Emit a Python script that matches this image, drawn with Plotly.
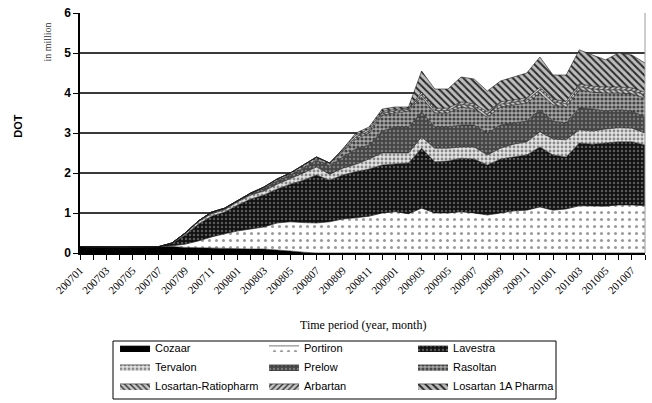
import plotly.graph_objects as go

# Monthly periods Jan 2007 .. Aug 2010
months = [f"{y}{m:02d}" for y in (2007, 2008, 2009, 2010) for m in range(1, 13)][:44]

# Defined daily doses (DOT), in million, per product
cozaar = [0.16, 0.15, 0.15, 0.15, 0.15, 0.15, 0.16, 0.16, 0.14, 0.13, 0.12, 0.12, 0.11, 0.10,
          0.10, 0.08, 0.05, 0.02] + [0.0] * 26
portiron = [0, 0, 0, 0, 0, 0, 0, 0.02, 0.08, 0.17, 0.28, 0.36, 0.44, 0.50, 0.55, 0.67, 0.73,
            0.74, 0.75, 0.78, 0.85, 0.88, 0.92, 1.00, 1.03, 0.98, 1.12, 1.00, 1.00, 1.03, 1.00,
            0.95, 1.00, 1.05, 1.07, 1.15, 1.07, 1.10, 1.18, 1.18, 1.17, 1.20, 1.20, 1.18]
lavestra = [0, 0, 0, 0, 0, 0, 0, 0.06, 0.23, 0.42, 0.52, 0.54, 0.65, 0.75, 0.80, 0.85, 0.94,
            1.06, 1.20, 1.04, 1.10, 1.15, 1.18, 1.20, 1.19, 1.27, 1.50, 1.28, 1.30, 1.34, 1.35,
            1.25, 1.35, 1.35, 1.38, 1.50, 1.38, 1.30, 1.57, 1.54, 1.58, 1.58, 1.58, 1.52]
tervalon = [0, 0, 0, 0, 0, 0, 0, 0.01, 0.03, 0.06, 0.06, 0.06, 0.08, 0.10, 0.10, 0.12, 0.13,
            0.18, 0.20, 0.15, 0.17, 0.19, 0.25, 0.30, 0.28, 0.25, 0.28, 0.34, 0.32, 0.28, 0.30,
            0.25, 0.27, 0.32, 0.33, 0.38, 0.40, 0.43, 0.33, 0.33, 0.35, 0.35, 0.34, 0.30]
prelow = [0, 0, 0, 0, 0, 0, 0, 0, 0.02, 0.02, 0.04, 0.04, 0.04, 0.05, 0.07, 0.08, 0.10,
          0.12, 0.17, 0.21, 0.28, 0.38, 0.35, 0.55, 0.65, 0.65, 0.63, 0.53, 0.53, 0.55, 0.55,
          0.55, 0.58, 0.53, 0.52, 0.55, 0.45, 0.42, 0.55, 0.55, 0.45, 0.45, 0.43, 0.40]
rasoltan = [0, 0, 0, 0, 0, 0, 0, 0, 0, 0, 0, 0, 0, 0, 0.03, 0.05, 0.05,
            0.08, 0.08, 0.07, 0.15, 0.25, 0.30, 0.40, 0.35, 0.40, 0.37, 0.35, 0.35, 0.45, 0.40,
            0.40, 0.45, 0.45, 0.45, 0.42, 0.40, 0.40, 0.45, 0.42, 0.45, 0.42, 0.43, 0.47]
ratiopharm = [0] * 20 + [0.03, 0.05, 0.05, 0.05, 0.05, 0.04, 0.06, 0.06, 0.06, 0.07, 0.07,
                         0.07, 0.07, 0.07, 0.07, 0.08, 0.08, 0.08, 0.08, 0.08, 0.08, 0.08,
                         0.08, 0.08]
arbartan = [0] * 20 + [0.02, 0.05, 0.05, 0.04, 0.04, 0.03, 0.06, 0.06, 0.06, 0.06, 0.06,
                       0.06, 0.06, 0.06, 0.06, 0.06, 0.06, 0.06, 0.07, 0.07, 0.07, 0.07,
                       0.07, 0.07]
pharma_1a = [0] * 20 + [0.0, 0.05, 0.05, 0.06, 0.06, 0.03, 0.53, 0.48, 0.48, 0.62, 0.62,
                        0.52, 0.52, 0.57, 0.62, 0.76, 0.61, 0.66, 0.85, 0.78, 0.68, 0.85,
                        0.82, 0.73]

series = [
    ("Cozaar", cozaar, dict(fillcolor="#000000")),
    ("Portiron", portiron, dict(fillcolor="#ffffff",
                                fillpattern=dict(shape=".", bgcolor="#ffffff", fgcolor="#9a9a9a",
                                                 size=7, solidity=0.15, fillmode="replace"))),
    ("Lavestra", lavestra, dict(fillcolor="#111111",
                                fillpattern=dict(shape=".", bgcolor="#111111", fgcolor="#5a5a5a",
                                                 size=4, solidity=0.3, fillmode="replace"))),
    ("Tervalon", tervalon, dict(fillcolor="#dddddd",
                                fillpattern=dict(shape=".", bgcolor="#e4e4e4", fgcolor="#8a8a8a",
                                                 size=4, solidity=0.4, fillmode="replace"))),
    ("Prelow", prelow, dict(fillcolor="#4a4a4a",
                            fillpattern=dict(shape=".", bgcolor="#454545", fgcolor="#7a7a7a",
                                             size=4, solidity=0.3, fillmode="replace"))),
    ("Rasoltan", rasoltan, dict(fillcolor="#888888",
                                fillpattern=dict(shape=".", bgcolor="#a8a8a8", fgcolor="#444444",
                                                 size=4, solidity=0.5, fillmode="replace"))),
    ("Losartan-Ratiopharm", ratiopharm, dict(fillcolor="#aaaaaa",
                                             fillpattern=dict(shape="\\", bgcolor="#c8c8c8",
                                                              fgcolor="#333333", size=4,
                                                              solidity=0.35, fillmode="replace"))),
    ("Arbartan", arbartan, dict(fillcolor="#aaaaaa",
                                fillpattern=dict(shape="/", bgcolor="#c8c8c8", fgcolor="#333333",
                                                 size=4, solidity=0.35, fillmode="replace"))),
    ("Losartan 1A Pharma", pharma_1a, dict(fillcolor="#999999",
                                           fillpattern=dict(shape="\\", bgcolor="#bdbdbd",
                                                            fgcolor="#2a2a2a", size=5,
                                                            solidity=0.4, fillmode="replace"))),
]

fig = go.Figure()
for name, vals, style in series:
    fig.add_trace(go.Scatter(
        x=months, y=vals, name=name, mode="lines", stackgroup="dot",
        line=dict(color="#1a1a1a", width=0.6), **style,
    ))

serif = "Liberation Serif, Times New Roman, serif"
sans = "Liberation Sans, Arial, sans-serif"

fig.update_layout(
    width=652, height=403,
    margin=dict(l=80, r=7, t=13, b=150, autoexpand=False),
    paper_bgcolor="white", plot_bgcolor="white",
    showlegend=True,
    legend=dict(orientation="h", x=0.062, y=-0.335, xanchor="left", yanchor="top",
                traceorder="normal", entrywidth=104, itemwidth=30,
                bgcolor="rgba(0,0,0,0)", borderwidth=0,
                font=dict(family=sans, size=11, color="#000000")),
    xaxis=dict(type="category", range=[0, len(months) - 1],
               tickmode="array", tickvals=months,
               ticktext=[m if i % 2 == 0 else "" for i, m in enumerate(months)],
               tickangle=-45, ticks="outside", ticklen=5, tickcolor="#000000",
               tickfont=dict(family=serif, size=11, color="#000000"),
               showline=True, linecolor="#000000", linewidth=1.5, showgrid=False,
               zeroline=False),
    yaxis=dict(range=[0, 6], dtick=1, ticks="outside", ticklen=5, tickcolor="#000000",
               tickfont=dict(family=sans, size=12, color="#000000", weight="bold"),
               showline=True, linecolor="#000000", linewidth=1.5,
               showgrid=True, gridcolor="#3a3a3a", gridwidth=1.5, zeroline=False),
    shapes=[
        # right-hand frame of the plot area
        dict(type="line", xref="paper", yref="paper", x0=1, x1=1, y0=0, y1=1,
             line=dict(color="#9a9a9a", width=1)),
        # legend frame
        dict(type="rect", xref="paper", yref="paper",
             x0=(113 - 80) / 565, x1=(556 - 80) / 565,
             y0=-(399 - 253) / 240, y1=-(341 - 253) / 240,
             line=dict(color="#000000", width=1), fillcolor="rgba(0,0,0,0)"),
    ],
    annotations=[
        dict(text="Time period (year, month)", xref="paper", yref="paper", x=0.5, y=-0.30,
             showarrow=False, font=dict(family=serif, size=12, color="#000000"),
             xanchor="center", yanchor="middle"),
        dict(text="DOT", xref="paper", yref="paper", x=-0.11, y=0.53, textangle=-90,
             showarrow=False, font=dict(family=sans, size=11, color="#000000", weight="bold"),
             xanchor="center", yanchor="middle"),
        dict(text="in million", xref="paper", yref="paper", x=-0.057, y=0.88, textangle=-90,
             showarrow=False, font=dict(family=serif, size=10, color="#333333"),
             xanchor="center", yanchor="middle"),
    ],
)

fig.write_html("out.html")
